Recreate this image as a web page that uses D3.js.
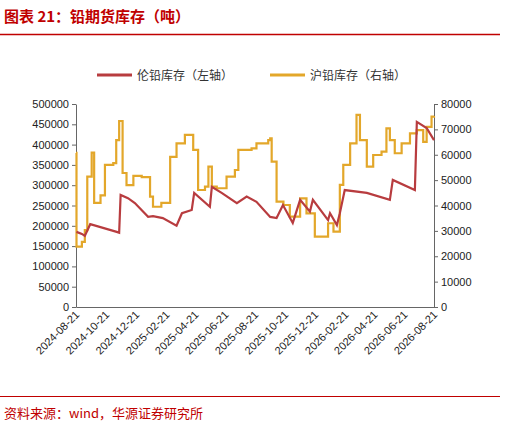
<!DOCTYPE html>
<html><head><meta charset="utf-8">
<script src="https://cdn.jsdelivr.net/npm/d3@7"></script>
<style>body{margin:0;background:#fff;font-family:"Noto Sans CJK SC","DejaVu Sans",sans-serif;}</style>
</head><body><svg id="chart" width="506" height="428"></svg>
<script>
// days since 2024-08-21
const lmeDays = [1,12,18,29,83,88,91,106,120,147,157,177,205,216,236,241,273,277,297,328,348,368,396,409,422,442,457,477,483,514,518,532,538,548,593,640,646,691,695,715,730];
const lmeStock = [185000,180000,175000,204000,185000,183000,276000,268000,256000,222000,224000,219000,200000,231000,239000,281000,247000,296000,281000,256000,272000,259000,222000,219000,251000,207000,264000,235000,264000,214000,231000,202000,231000,288000,281000,264000,313000,288000,456000,441000,411000];
const shfeDays = [0,1,12,18,23,32,37,50,59,76,82,88,95,103,117,134,151,157,174,192,205,222,239,249,263,270,277,287,307,324,331,358,368,392,396,399,409,423,436,457,470,487,501,514,525,538,545,559,572,579,593,606,623,633,640,650,664,681,695,708,715,725,730];
const shfeStock = [60700,23800,25700,30300,51400,60800,41000,44000,56000,56700,65800,73300,52800,48000,51700,51200,43500,39500,41000,59200,64500,67800,61900,46100,47400,55300,47400,46800,51400,54000,61900,62500,64500,65800,66500,57300,41500,40200,35600,42800,36900,27700,27700,33000,29700,48100,56000,64500,75700,65800,55300,59900,61200,70400,65800,60600,64500,68400,69700,65100,71000,75000,75300];
const leftTicks = [0,50000,100000,150000,200000,250000,300000,350000,400000,450000,500000];
const rightTicks = [0,10000,20000,30000,40000,50000,60000,70000,80000];
const seriesNames = ["伦铅库存（左轴）","沪铅库存（右轴）"];
const colors = ["#b83c3f","#e3a72a"];

const start = new Date(2024,7,21);
const toDate = d => d3.timeDay.offset(start, d);
const svg = d3.select("#chart");
const x0 = 76, x1 = 434, yTop = 104, yBot = 307;

const x = d3.scaleTime().domain([start, new Date(2026,7,21)]).range([x0, x1]);
const yL = d3.scaleLinear().domain([0,500000]).range([yBot, yTop]);
const yR = d3.scaleLinear().domain([0,80000]).range([yBot, yTop]);

// title
svg.append("text").attr("x",4).attr("y",22).attr("fill","#c00000")
  .attr("font-size",15).attr("font-weight","bold").text("图表 21：铅期货库存（吨）");
svg.append("line").attr("x1",0).attr("x2",500).attr("y1",34.5).attr("y2",34.5)
  .attr("stroke","#c00000").attr("stroke-width",1.5);

// legend
seriesNames.forEach((n,i) => {
  const lx = i == 0 ? 97 : 270;
  svg.append("line").attr("x1",lx).attr("x2",lx+35).attr("y1",75).attr("y2",75)
    .attr("stroke",colors[i]).attr("stroke-width",3);
  svg.append("text").attr("x",lx+40).attr("y",79.5).attr("font-size",12).attr("fill","#333").text(n);
});

const tickStyle = g => {
  g.selectAll("path,line").attr("stroke","#666");
  g.selectAll("text").attr("font-size",11).attr("fill","#222").attr("font-family","Liberation Sans, Arial, sans-serif");
};

svg.append("g").attr("transform","translate("+x0+",0)")
  .call(d3.axisLeft(yL).tickValues(leftTicks).tickFormat(d3.format("d")).tickSize(4).tickSizeOuter(0)).call(tickStyle);
svg.append("g").attr("transform","translate("+x1+",0)")
  .call(d3.axisRight(yR).tickValues(rightTicks).tickFormat(d3.format("d")).tickSize(4).tickSizeOuter(0)).call(tickStyle);

const xTicks = d3.range(0,25,2).map(m => d3.timeMonth.offset(start, m));
const gx = svg.append("g").attr("transform","translate(0,"+yBot+")")
  .call(d3.axisBottom(x).tickValues(xTicks).tickFormat(d3.timeFormat("%Y-%m-%d")).tickSize(0).tickSizeOuter(0))
  .call(tickStyle);
gx.selectAll("text").attr("text-anchor","end").attr("dx","-0.3em").attr("dy","0.5em")
  .attr("transform","rotate(-45)");

const lineL = d3.line().x(d => x(toDate(d[0]))).y(d => yL(d[1]));
const lineR = d3.line().curve(d3.curveStepAfter).x(d => x(toDate(d[0]))).y(d => yR(d[1]));

svg.append("path").datum(shfeDays.map((d,i) => [d, shfeStock[i]]))
  .attr("fill","none").attr("stroke",colors[1]).attr("stroke-width",2.2).attr("d",lineR);
svg.append("path").datum(lmeDays.map((d,i) => [d, lmeStock[i]]))
  .attr("fill","none").attr("stroke",colors[0]).attr("stroke-width",2.2).attr("d",lineL);

// source
svg.append("line").attr("x1",0).attr("x2",500).attr("y1",396.5).attr("y2",396.5)
  .attr("stroke","#c00000").attr("stroke-width",1);
svg.append("text").attr("x",4).attr("y",418).attr("font-size",13).attr("fill","#c00000")
  .text("资料来源：wind，华源证券研究所");
</script></body></html>
